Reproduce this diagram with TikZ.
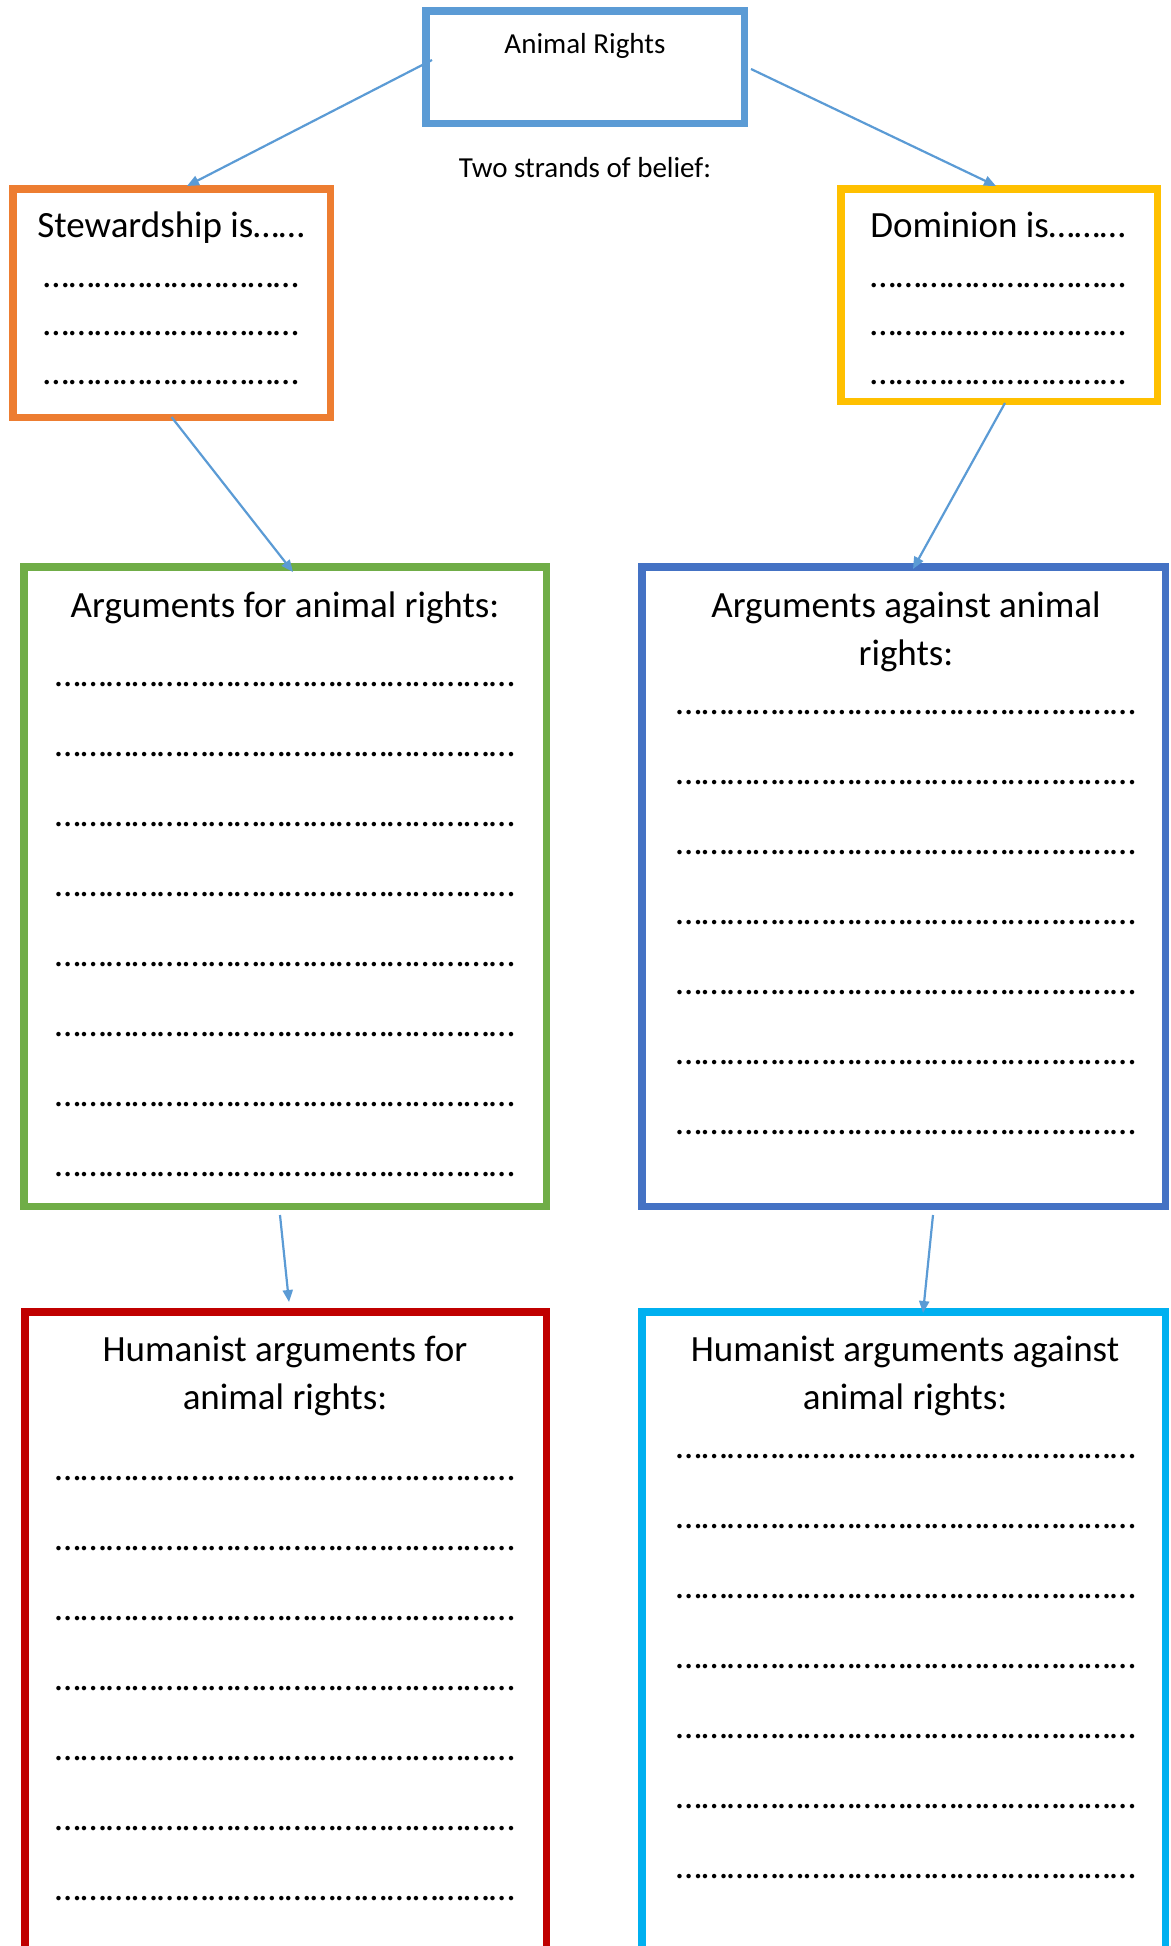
\documentclass[tikz,border=0pt]{standalone}
\usepackage{fontspec}
\setmainfont{Carlito}
\usetikzlibrary{arrows.meta}
\definecolor{topblue}{HTML}{5B9BD5}
\definecolor{stewcol}{HTML}{ED7D31}
\definecolor{domcol}{HTML}{FFC000}
\definecolor{forcol}{HTML}{70AD47}
\definecolor{againstcol}{HTML}{4472C4}
\definecolor{humforcol}{HTML}{C00000}
\definecolor{humagcol}{HTML}{00B0F0}
\tikzset{>={Triangle[width=10pt,length=12pt]}}
\tikzset{
  frame/.style={draw=#1, line width=7.5pt, inner sep=0pt},
  link/.style={->, topblue, line width=2.2pt},
  big/.style={font=\fontsize{37}{48}\selectfont, anchor=base, align=center, inner sep=0pt},
  small/.style={font=\fontsize{29}{35}\selectfont, anchor=base, inner sep=0pt},
}
\newcommand{\dotrun}[1]{\foreach \n in {1,...,#1}{…}}

\begin{document}
\begin{tikzpicture}[x=1pt,y=-1pt]
  \useasboundingbox (0,0) rectangle (1170,1946);
  \clip (0,0) rectangle (1170,1946);

  \node[frame=topblue, minimum width=318.5pt, minimum height=112.5pt] (top) at (585,67) {};
  \node[frame=stewcol, minimum width=317.5pt, minimum height=228.5pt] (stew) at (171.5,303) {};
  \node[frame=domcol, minimum width=316.5pt, minimum height=212.5pt] (dom) at (999,295) {};
  \node[frame=forcol, minimum width=522.5pt, minimum height=639.5pt] (for) at (285,886.5) {};
  \node[frame=againstcol, minimum width=523.5pt, minimum height=639.5pt] (against) at (903.5,886.5) {};
  \node[frame=humforcol, minimum width=521.5pt, minimum height=700pt] (humfor) at (285.5,1661.75) {};
  \node[frame=humagcol, minimum width=523.5pt, minimum height=700pt] (humag) at (903.5,1661.75) {};

  \node[small] (title) at (585,53) {Animal Rights};
  \node[small] (strands) at (585,177) {Two strands of belief:};

  \node[big] (stewtext) at (171,237) {Stewardship is……};
  \node[big] (domtext) at (998,237) {Dominion is………};
  \foreach \y [count=\i] in {287,335,384} {
    \node[big] (stewdots\i) at (171,\y) {\dotrun{10}};
    \node[big] (domdots\i) at (998,\y) {\dotrun{10}};
  }

  \node[big] (fortext) at (285,617) {Arguments for animal rights:};
  \foreach \k in {0,...,7}
    \node[big] (fordots\k) at (285,{686+70*\k}) {\dotrun{18}};

  \node[big] (againsttext) at (906,665) {Arguments against animal\\rights:};
  \foreach \k in {0,...,6}
    \node[big] (againstdots\k) at (906,{714+70*\k}) {\dotrun{18}};

  \node[big] (humfortext) at (285,1409) {Humanist arguments for\\animal rights:};
  \foreach \k in {0,...,6}
    \node[big] (humfordots\k) at (285,{1480+70*\k}) {\dotrun{18}};

  \node[big] (humagtext) at (905,1409) {Humanist arguments against\\animal rights:};
  \foreach \k in {0,...,6}
    \node[big] (humagdots\k) at (906,{1458+70*\k}) {\dotrun{18}};

  \draw[link] ([xshift=10pt,yshift=7pt]top.west) -- ([xshift=15.5pt,yshift=-1pt]stew.north);
  \draw[link] ([xshift=3pt,yshift=-2pt]top.east) -- ([xshift=-3pt,yshift=-1pt]dom.north);
  \draw[link] ([yshift=4pt]stew.south) -- ([xshift=8pt,yshift=-9pt]for.north);
  \draw[link] ([xshift=6pt,yshift=2pt]dom.south) -- ([xshift=9.5pt,yshift=-6pt]against.north);
  \draw[link] ([xshift=-5pt,yshift=-5pt]for.south) -- ([xshift=3.5pt,yshift=6pt]humfor.north);
  \draw[link] ([xshift=29.5pt,yshift=-5pt]against.south) -- ([xshift=19.5pt,yshift=-5pt]humag.north);
\end{tikzpicture}
\end{document}
